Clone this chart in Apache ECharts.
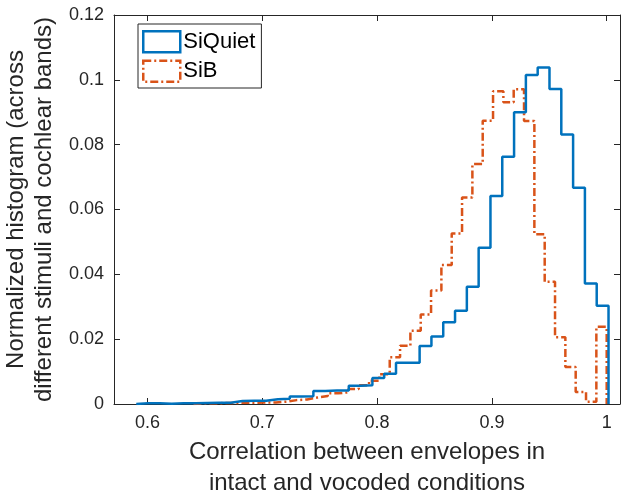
<!DOCTYPE html>
<html>
<head>
<meta charset="utf-8">
<script src="https://cdn.jsdelivr.net/npm/echarts@6/dist/echarts.min.js"></script>
<style>
  html, body { margin: 0; padding: 0; background: #fff; }
  #chart { width: 626px; height: 493px; }
</style>
</head>
<body>
<div id="chart"></div>
<script>
// histogram bins (40 each)
const quietStart = 0.5902;
const quietWidth = 0.010285;
const quietValues = [0.0002, 0.0002, 0.0001, 0.0002, 0.0002, 0.0003, 0.0004, 0.0004, 0.0009, 0.0010,
  0.0010, 0.0015, 0.0016, 0.0023, 0.0024, 0.0040, 0.0042, 0.0042, 0.0056, 0.0058,
  0.0080, 0.0093, 0.0127, 0.0127, 0.0179, 0.0208, 0.0252, 0.0288, 0.0362, 0.0482,
  0.0642, 0.0763, 0.0900, 0.1015, 0.1038, 0.0972, 0.0831, 0.0667, 0.0372, 0.0303];

const sibStart = 0.6400;
const sibWidth = 0.0090;
const sibValues = [0.0002, 0.0002, 0.0003, 0.0003, 0.0004, 0.0004, 0.0005, 0.0005, 0.0007, 0.0012,
  0.0014, 0.0020, 0.0025, 0.0033, 0.0036, 0.0046, 0.0058, 0.0072, 0.0092, 0.0144,
  0.0180, 0.0226, 0.0276, 0.0350, 0.0429, 0.0526, 0.0637, 0.0740, 0.0874, 0.0965,
  0.0931, 0.0971, 0.0873, 0.0524, 0.0377, 0.0206, 0.0114, 0.0037, 0.0007, 0.0238];

const xTicks = [0.6, 0.7, 0.8, 0.9, 1];
const seriesNames = ['SiQuiet', 'SiB'];

// outline of a stairs histogram
function stairs(start, width, vals) {
  let pts = [[start, 0]];
  vals.forEach((v, i) => {
    pts.push([start + i * width, v]);
    pts.push([start + (i + 1) * width, v]);
  });
  pts.push([start + vals.length * width, 0]);
  return pts;
}

const axisCol = '#262626';
const font = 'Liberation Sans, Arial, Helvetica, sans-serif';

var chart = echarts.init(document.getElementById('chart'));
chart.setOption({
  animation: false,
  grid: { left: 114, right: 6, top: 15, bottom: 89, outerBoundsMode: 'none', containLabel: false },
  legend: {
    left: 138, top: 24,
    orient: 'vertical',
    itemWidth: 37, itemHeight: 21, itemGap: 6,
    padding: [6, 6, 5, 4],
    borderColor: axisCol, borderWidth: 1,
    backgroundColor: '#fff',
    textStyle: { fontFamily: font, fontSize: 22, lineHeight: 21, color: '#000', padding: [0, 0, 0, -2] },
    data: [
      { name: seriesNames[0], icon: 'rect', itemStyle: { color: 'transparent', borderColor: '#0072BD', borderWidth: 2.5 } },
      { name: seriesNames[1], icon: 'rect', itemStyle: { color: 'transparent', borderColor: '#D95319', borderWidth: 2.5, borderType: [8, 3, 2, 3] } }
    ]
  },
  xAxis: [{
    type: 'value', min: 0.5708, max: 1.0116,
    axisLine: { onZero: false, lineStyle: { color: axisCol } },
    axisTick: { inside: true, length: 6, customValues: xTicks, lineStyle: { color: axisCol } },
    axisLabel: { customValues: xTicks, fontFamily: font, fontSize: 18, color: axisCol, margin: 10,
      formatter: v => String(+v.toFixed(2)) },
    splitLine: { show: false },
    name: 'Correlation between envelopes in\nintact and vocoded conditions',
    nameLocation: 'middle', nameGap: 33,
    nameTextStyle: { fontFamily: font, fontSize: 24, color: axisCol, lineHeight: 31, verticalAlign: 'top' }
  }, {
    type: 'value', min: 0.5708, max: 1.0116, position: 'top',
    axisLine: { onZero: false, lineStyle: { color: axisCol } },
    axisTick: { inside: true, length: 6, customValues: xTicks, lineStyle: { color: axisCol } },
    axisLabel: { show: false },
    splitLine: { show: false }
  }],
  yAxis: [{
    type: 'value', min: 0, max: 0.12, interval: 0.02,
    axisLine: { show: true, onZero: false, lineStyle: { color: axisCol } },
    axisTick: { show: true, inside: true, length: 6, lineStyle: { color: axisCol } },
    axisLabel: { fontFamily: font, fontSize: 18, color: axisCol, margin: 10,
      formatter: v => String(+v.toFixed(2)) },
    splitLine: { show: false },
    name: 'Normalized histogram (across\ndifferent stimuli and cochlear bands)',
    nameLocation: 'middle', nameGap: 55,
    nameTextStyle: { fontFamily: font, fontSize: 24, color: axisCol, lineHeight: 28 }
  }, {
    type: 'value', min: 0, max: 0.12, interval: 0.02, position: 'right',
    axisLine: { show: true, onZero: false, lineStyle: { color: axisCol } },
    axisTick: { show: true, inside: true, length: 6, lineStyle: { color: axisCol } },
    axisLabel: { show: false },
    splitLine: { show: false }
  }],
  series: [
    {
      name: seriesNames[0], type: 'line', showSymbol: false, symbol: 'none',
      data: stairs(quietStart, quietWidth, quietValues),
      lineStyle: { color: '#0072BD', width: 2.5 },
      itemStyle: { color: '#0072BD' }, z: 3
    },
    {
      name: seriesNames[1], type: 'line', showSymbol: false, symbol: 'none',
      data: stairs(sibStart, sibWidth, sibValues),
      lineStyle: { color: '#D95319', width: 2.5, type: [8, 3, 2, 3] },
      itemStyle: { color: '#D95319' }, z: 2
    }
  ]
});
</script>
</body>
</html>
